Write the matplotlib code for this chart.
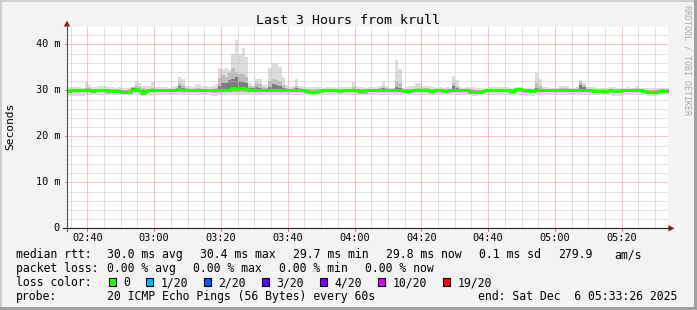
import numpy as np
import matplotlib
matplotlib.use('Agg')
import matplotlib.pyplot as plt
import matplotlib.transforms as mtransforms
from matplotlib.patches import Rectangle, Polygon
from matplotlib.lines import Line2D

# ---------------- data (ms), one value per 60 s step ----------------
ping_max = [
    30.6, 30.7, 30.8, 30.8, 30.7, 30.6, 31.7, 31.2, 30.8, 30.8,
    31.0, 31.0, 31.0, 30.7, 30.7, 30.6, 30.7, 30.6, 30.5, 30.6,
    30.8, 32.0, 31.5, 31.0, 30.9, 30.9, 31.7, 30.8, 30.8, 30.7,
    30.7, 30.6, 30.7, 31.0, 32.9, 32.4, 31.0, 31.0, 30.8, 31.4,
    31.4, 30.9, 30.9, 30.8, 31.0, 31.4, 34.8, 34.6, 34.8, 34.5,
    38.0, 40.9, 38.0, 39.3, 37.3, 31.6, 31.2, 32.5, 32.5, 31.2,
    31.2, 34.8, 35.9, 35.9, 35.0, 33.0, 31.2, 30.8, 31.0, 32.4,
    31.0, 30.8, 30.8, 30.8, 30.7, 30.8, 30.8, 30.6, 30.7, 30.7,
    30.8, 30.6, 30.7, 30.8, 30.7, 30.8, 31.9, 31.0, 30.7, 30.7,
    30.6, 30.7, 30.7, 30.8, 31.0, 31.7, 31.0, 30.6, 30.6, 36.6,
    34.6, 30.6, 30.7, 30.9, 30.9, 31.6, 31.6, 31.0, 31.0, 30.8,
    30.8, 30.6, 30.7, 30.6, 30.7, 30.6, 33.2, 32.2, 30.7, 30.6,
    30.7, 30.8, 30.7, 30.6, 30.5, 30.6, 30.6, 30.7, 30.8, 30.8,
    30.7, 30.8, 30.7, 30.6, 30.6, 30.7, 30.7, 30.6, 30.6, 30.6,
    30.6, 33.7, 32.5, 30.7, 30.7, 30.6, 30.6, 30.6, 30.9, 30.9,
    30.9, 30.6, 30.6, 30.7, 32.2, 31.6, 30.8, 30.8, 30.7, 30.6,
    30.6, 30.6, 30.6, 30.7, 30.7, 30.6, 30.6, 30.6, 30.7, 30.6,
    30.6, 30.9, 30.6, 30.6, 30.5, 30.6, 30.5, 30.5, 30.6, 30.6,
    30.6,
]
ping_q2 = [
    30.2, 30.2, 30.3, 30.2, 30.2, 30.2, 30.6, 30.5, 30.2, 30.2,
    30.3, 30.3, 30.3, 30.2, 30.2, 30.2, 30.2, 30.1, 30.1, 30.2,
    30.8, 31.0, 30.8, 30.4, 30.3, 30.3, 30.6, 30.3, 30.2, 30.2,
    30.2, 30.2, 30.2, 30.4, 31.5, 31.2, 30.5, 30.3, 30.2, 30.5,
    30.5, 30.3, 30.2, 30.2, 30.3, 30.6, 32.6, 33.3, 33.0, 33.8,
    34.8, 34.0, 33.6, 33.6, 33.0, 31.0, 30.8, 31.6, 31.3, 30.8,
    30.6, 32.0, 32.5, 32.3, 32.0, 31.2, 30.6, 30.3, 30.4, 31.0,
    30.5, 30.3, 30.2, 30.2, 30.2, 30.3, 30.2, 30.2, 30.2, 30.3,
    30.2, 30.2, 30.2, 30.3, 30.2, 30.2, 30.8, 30.3, 30.2, 30.2,
    30.2, 30.2, 30.2, 30.3, 30.4, 30.8, 30.5, 30.2, 30.2, 32.0,
    31.5, 30.2, 30.2, 30.3, 30.3, 30.6, 30.6, 30.4, 30.4, 30.3,
    30.2, 30.2, 30.2, 30.2, 30.2, 30.2, 31.6, 31.0, 30.2, 30.2,
    30.2, 30.3, 30.2, 30.1, 30.1, 30.1, 30.2, 30.2, 30.3, 30.3,
    30.2, 30.3, 30.2, 30.2, 30.2, 30.3, 30.3, 30.2, 30.2, 30.2,
    30.2, 31.5, 30.9, 30.2, 30.2, 30.2, 30.2, 30.2, 30.4, 30.4,
    30.4, 30.2, 30.2, 30.2, 31.7, 31.2, 30.3, 30.3, 30.2, 30.2,
    30.2, 30.2, 30.2, 30.2, 30.2, 30.2, 30.2, 30.2, 30.2, 30.2,
    30.2, 30.4, 30.2, 30.2, 30.1, 30.1, 30.1, 30.1, 30.2, 30.2,
    30.2,
]
ping_q3 = [
    30.1, 30.1, 30.1, 30.1, 30.1, 30.1, 30.2, 30.1, 30.1, 30.1,
    30.1, 30.1, 30.1, 30.1, 30.1, 30.1, 30.0, 29.9, 29.9, 29.9,
    30.4, 30.5, 30.3, 30.1, 30.1, 30.1, 30.2, 30.1, 30.1, 30.1,
    30.1, 30.1, 30.1, 30.2, 30.9, 30.6, 30.2, 30.1, 30.1, 30.2,
    30.2, 30.1, 30.1, 30.1, 30.1, 30.2, 31.0, 31.6, 31.5, 32.2,
    32.5, 33.0, 32.0, 31.8, 31.6, 30.6, 30.4, 30.8, 30.6, 30.3,
    30.2, 30.8, 31.3, 31.2, 30.9, 30.5, 30.2, 30.1, 30.1, 30.4,
    30.1, 30.1, 30.1, 29.8, 29.8, 29.8, 30.1, 30.1, 30.1, 30.1,
    30.1, 30.1, 30.1, 30.1, 30.1, 30.1, 30.3, 30.1, 30.1, 30.1,
    30.1, 30.1, 30.1, 30.1, 30.2, 30.4, 30.2, 30.1, 30.1, 30.8,
    30.5, 30.0, 30.0, 30.0, 30.1, 30.2, 30.2, 30.1, 30.1, 30.1,
    30.1, 30.1, 30.1, 30.1, 30.1, 30.1, 30.9, 30.5, 30.1, 30.1,
    30.1, 29.8, 29.8, 29.8, 29.8, 30.1, 30.1, 30.1, 30.1, 30.1,
    30.1, 30.1, 30.1, 30.1, 30.1, 30.3, 30.3, 30.3, 30.1, 30.1,
    30.1, 30.6, 30.3, 30.1, 30.1, 30.1, 30.1, 30.1, 30.2, 30.2,
    30.2, 30.1, 30.1, 30.1, 31.2, 30.7, 30.1, 30.1, 30.1, 30.1,
    30.1, 30.1, 30.1, 30.1, 30.1, 30.1, 30.1, 30.1, 30.1, 30.1,
    30.1, 30.2, 30.1, 30.1, 29.9, 29.9, 29.9, 29.9, 30.1, 30.1,
    30.1,
]
ping_median = [
    29.9, 29.9, 30.0, 30.0, 30.0, 30.0, 30.0, 30.0, 29.9, 30.0,
    30.0, 30.0, 30.0, 29.9, 29.9, 29.9, 29.8, 29.6, 29.6, 29.6,
    30.0, 30.2, 30.0, 29.5, 29.9, 30.0, 30.0, 30.0, 30.0, 30.0,
    30.0, 30.0, 30.0, 30.0, 30.3, 30.1, 30.0, 30.0, 30.0, 30.0,
    30.0, 30.0, 30.0, 30.0, 30.0, 30.0, 30.0, 30.0, 30.0, 30.1,
    30.5, 30.3, 30.4, 30.4, 30.2, 30.0, 30.0, 30.1, 30.0, 30.0,
    30.0, 30.0, 30.0, 30.0, 30.0, 30.0, 30.0, 30.0, 30.0, 30.0,
    30.0, 30.0, 29.9, 29.6, 29.6, 29.7, 29.9, 30.0, 30.0, 30.0,
    30.0, 30.0, 29.9, 30.0, 30.0, 30.0, 30.0, 30.0, 29.9, 29.9,
    30.0, 30.0, 30.0, 30.0, 30.0, 30.0, 30.0, 30.0, 30.0, 30.0,
    30.0, 29.8, 29.8, 29.8, 30.0, 30.0, 30.0, 30.0, 30.0, 29.9,
    29.9, 30.0, 30.0, 29.9, 29.9, 30.0, 30.1, 30.0, 30.0, 30.0,
    30.0, 29.7, 29.6, 29.6, 29.6, 29.9, 30.0, 30.0, 30.0, 30.0,
    30.0, 30.0, 30.0, 29.9, 29.9, 30.2, 30.2, 30.1, 30.0, 29.9,
    29.9, 30.0, 30.0, 30.0, 30.0, 30.0, 30.0, 30.0, 30.0, 30.0,
    30.0, 30.0, 30.0, 30.0, 30.0, 30.0, 30.0, 30.0, 29.9, 29.9,
    29.9, 29.9, 29.9, 30.0, 29.8, 29.8, 29.9, 30.0, 30.0, 30.0,
    30.0, 30.0, 30.0, 29.9, 29.7, 29.7, 29.7, 29.7, 29.8, 29.8,
    29.8,
]
ping_p10 = [
    29.6, 29.6, 29.6, 29.6, 29.6, 29.6, 29.6, 29.6, 29.6, 29.6,
    29.6, 29.6, 29.3, 29.3, 29.6, 29.6, 29.5, 29.3, 29.3, 29.3,
    29.6, 29.6, 29.5, 29.2, 29.6, 29.6, 29.6, 29.6, 29.6, 29.6,
    29.6, 29.6, 29.6, 29.6, 29.6, 29.6, 29.6, 29.6, 29.6, 29.6,
    29.6, 29.6, 29.6, 29.6, 29.5, 29.5, 29.6, 29.6, 29.6, 29.6,
    29.7, 29.7, 29.7, 29.7, 29.6, 29.6, 29.6, 29.6, 29.6, 29.6,
    29.6, 29.6, 29.6, 29.6, 29.6, 29.6, 29.6, 29.6, 29.6, 29.6,
    29.6, 29.6, 29.5, 29.3, 29.3, 29.4, 29.6, 29.6, 29.6, 29.6,
    29.6, 29.6, 29.6, 29.6, 29.6, 29.6, 29.6, 29.6, 29.3, 29.3,
    29.3, 29.6, 29.6, 29.6, 29.6, 29.6, 29.6, 29.6, 29.6, 29.6,
    29.6, 29.5, 29.5, 29.5, 29.6, 29.6, 29.6, 29.6, 29.6, 29.3,
    29.3, 29.6, 29.6, 29.4, 29.4, 29.6, 29.6, 29.6, 29.6, 29.6,
    29.6, 29.3, 29.3, 29.3, 29.3, 29.6, 29.6, 29.6, 29.6, 29.6,
    29.6, 29.6, 29.6, 29.3, 29.3, 29.6, 29.6, 29.6, 29.4, 29.4,
    29.4, 29.6, 29.6, 29.6, 29.6, 29.6, 29.6, 29.6, 29.6, 29.6,
    29.6, 29.6, 29.6, 29.6, 29.6, 29.6, 29.6, 29.6, 29.6, 29.6,
    29.6, 29.3, 29.3, 29.6, 29.5, 29.5, 29.6, 29.6, 29.6, 29.6,
    29.6, 29.6, 29.6, 29.6, 29.4, 29.4, 29.4, 29.4, 29.5, 29.5,
    29.5,
]
ping_min = [
    28.85, 28.85, 28.85, 28.85, 28.85, 28.85, 29.0, 29.0, 29.0, 29.0,
    29.0, 29.0, 28.95, 28.95, 28.9, 28.9, 28.9, 28.9, 28.9, 28.9,
    29.0, 29.0, 28.95, 28.85, 29.0, 29.0, 29.0, 29.0, 29.0, 29.0,
    29.0, 29.0, 29.0, 29.0, 29.0, 29.0, 29.0, 29.0, 29.0, 29.0,
    29.0, 29.0, 29.0, 29.0, 28.85, 28.85, 29.0, 29.0, 29.0, 29.0,
    29.0, 29.0, 28.95, 28.9, 28.9, 28.9, 28.95, 29.0, 29.0, 29.0,
    29.0, 29.0, 29.0, 29.0, 29.0, 29.0, 29.0, 29.0, 29.0, 29.0,
    29.0, 29.0, 28.95, 28.9, 28.9, 28.95, 29.0, 29.0, 29.0, 29.0,
    29.0, 29.0, 29.0, 29.0, 29.0, 29.0, 29.0, 29.0, 28.9, 28.9,
    28.9, 29.0, 29.0, 29.0, 29.0, 29.0, 29.0, 29.0, 29.0, 29.0,
    29.0, 28.95, 28.95, 28.95, 29.0, 29.0, 29.0, 29.0, 29.0, 28.9,
    28.9, 29.0, 29.0, 28.95, 28.95, 29.0, 29.0, 29.0, 29.0, 29.0,
    29.0, 28.9, 28.85, 28.85, 28.9, 29.0, 29.0, 29.0, 29.0, 29.0,
    29.0, 29.0, 29.0, 28.9, 28.9, 29.0, 29.0, 29.0, 28.75, 28.75,
    28.75, 29.0, 29.0, 29.0, 29.0, 29.0, 29.0, 29.0, 29.0, 29.0,
    29.0, 29.0, 29.0, 29.0, 29.0, 29.0, 29.0, 29.0, 29.0, 29.0,
    29.0, 28.9, 28.9, 29.0, 28.75, 28.75, 28.75, 29.0, 29.0, 29.0,
    29.0, 29.0, 29.0, 29.0, 28.75, 28.75, 28.75, 28.75, 28.95, 28.95,
    28.95,
]

first_step_min = -6.83          # start of first step, minutes relative to 02:40
time_labels = ['02:40', '03:00', '03:20', '03:40', '04:00', '04:20', '04:40', '05:00', '05:20']
time_ticks = [0, 20, 40, 60, 80, 100, 120, 140, 160]
y_ticks = [0, 10, 20, 30, 40]
y_labels = ['0', '10 m', '20 m', '30 m', '40 m']

loss_labels = ['0', '1/20', '2/20', '3/20', '4/20', '10/20', '19/20']
loss_colors = ['#26ff00', '#00b8ff', '#0059ff', '#5e00ff', '#7e00ff', '#dd00ff', '#ff0000']

title = 'Last 3 Hours from krull'
rtt_stats = ['median rtt:', '30.0 ms avg', '30.4 ms max', '29.7 ms min', '29.8 ms now',
             '0.1 ms sd', '279.9', 'am/s']
loss_stats = ['packet loss:', '0.00 % avg', '0.00 % max', '0.00 % min', '0.00 % now']
probe_text = ['probe:', '20 ICMP Echo Pings (56 Bytes) every 60s', 'end: Sat Dec  6 05:33:26 2025']

# ---------------- figure ----------------
W, H = 697, 310
MONO = 'DejaVu Sans Mono'
plt.rcParams['font.family'] = [MONO]
fig = plt.figure(figsize=(W / 100, H / 100), dpi=100, facecolor='#f3f3f3')


def fx(x):
    return x / W


def fy(y):
    return 1 - y / H


X0, X1, YT, YB = 67, 667.5, 27.3, 228.3
ax = fig.add_axes([fx(X0), fy(YB), (X1 - X0) / W, (YB - YT) / H])
ax.set_facecolor('white')
ax.set_xlim(-6.08, 173.71)
ax.set_ylim(0, 43.7)
for s in ax.spines.values():
    s.set_visible(False)
ax.set_xticks([])
ax.set_yticks([])

n = len(ping_max)
edges = first_step_min + np.arange(n + 1)


def ext(a):
    a = np.asarray(a, dtype=float)
    return np.append(a, a[-1])


mx, q2, q3, med, p10, mn = map(ext, (ping_max, ping_q2, ping_q3, ping_median, ping_p10, ping_min))
ax.fill_between(edges, mn, mx, step='post', color='#dcdcdc', lw=0, zorder=1)
ax.fill_between(edges, p10, q2, step='post', color='#bdbdbd', lw=0, zorder=1.2)
ax.fill_between(edges, np.minimum(med, q3) - 0.15, q3, step='post', color='#7d7d7d', lw=0, zorder=1.4)

# grid (dotted)
dot = (0, (1, 1))
gkw = dict(lw=0.72, ls=dot)
for t in np.arange(-5, 174, 5):
    if t % 20 == 0:
        continue
    ax.axvline(t, color='#c4c4c4', zorder=2, **gkw)
for v in np.arange(2, 43, 2):
    if v % 10 == 0:
        continue
    ax.axhline(v, color='#c4c4c4', zorder=2, **gkw)
for t in time_ticks:
    ax.axvline(t, color='#ee8a8a', zorder=2.1, **gkw)
for v in y_ticks[1:]:
    ax.axhline(v, color='#ee8a8a', zorder=2.1, **gkw)

ax.step(edges, med, where='post', color='#26ff00', lw=2.2, zorder=3)

# tick labels and small tick marks
tx = mtransforms.blended_transform_factory(ax.transData, ax.transAxes)
for t, lab in zip(time_ticks, time_labels):
    ax.text(t, (YB - 240.7) / (YB - YT), lab, transform=tx, ha='center', va='baseline',
            fontsize=7.35, color='black', clip_on=False)
    ax.plot([t, t], [0, -2.2 / (YB - YT)], transform=tx, color='#e07070', lw=0.72,
            clip_on=False, zorder=4)
ty = mtransforms.offset_copy(mtransforms.blended_transform_factory(ax.transAxes, ax.transData),
                             fig=fig, x=-7, y=-3, units='dots')
tyl = mtransforms.blended_transform_factory(ax.transAxes, ax.transData)
for v, lab in zip(y_ticks, y_labels):
    ax.text(0, v, lab, transform=ty, ha='right', va='baseline', fontsize=7.35,
            color='black', clip_on=False)
    if v > 0:
        ax.plot([-2.5 / (X1 - X0), 0], [v, v], transform=tyl, color='#e07070', lw=0.72,
                clip_on=False, zorder=4)

# axis lines and arrows
fig.add_artist(Line2D([fx(67), fx(67)], [fy(231), fy(24)], color='#505050', lw=0.8))
fig.add_artist(Line2D([fx(63), fx(670)], [fy(YB), fy(YB)], color='#202020', lw=0.8))
fig.add_artist(Polygon([(fx(63.8), fy(26.5)), (fx(70.2), fy(26.5)), (fx(67), fy(20.5))],
                       closed=True, color='#8c1c1c', lw=0))
fig.add_artist(Polygon([(fx(668.5), fy(YB - 3.2)), (fx(668.5), fy(YB + 3.2)), (fx(674.5), fy(YB))],
                       closed=True, color='#8c1c1c', lw=0))

# texts
fig.text(fx(348), fy(24), title, ha='center', va='baseline', fontsize=9.5, color='black')
fig.text(fx(10.5), fy(126.5), 'Seconds', rotation=90, ha='center', va='center', fontsize=8.1)
fig.text(fx(687.5), fy(60), 'RRDTOOL / TOBI OETIKER', rotation=-90, ha='center', va='center',
         fontsize=6.0, color='#a8a8a8')

LFS = 8.3
for xp, s in zip([16, 107, 200, 293, 386, 479, 558, 614], rtt_stats):
    fig.text(fx(xp), fy(258.2), s, ha='left', va='baseline', fontsize=LFS)
for xp, s in zip([16, 107, 193.3, 279.3, 365], loss_stats):
    fig.text(fx(xp), fy(272.1), s, ha='left', va='baseline', fontsize=LFS)
fig.text(fx(16), fy(286.0), 'loss color:', ha='left', va='baseline', fontsize=LFS)
for xs, xt, lab, col in zip([108.7, 145.7, 203.7, 261.7, 319.7, 377.7, 442.7],
                            [123.3, 160.3, 218.3, 276.3, 334.3, 392.7, 457.3],
                            loss_labels, loss_colors):
    fig.add_artist(Rectangle((fx(xs), fy(286.3)), 7.5 / W, 8 / H, facecolor=col,
                             edgecolor='black', lw=0.8, transform=fig.transFigure))
    fig.text(fx(xt), fy(286.0), lab, ha='left', va='baseline', fontsize=LFS)
for xp, s in zip([16, 107, 478.3], probe_text):
    fig.text(fx(xp), fy(299.9), s, ha='left', va='baseline', fontsize=LFS)

# 3D frame
fig.add_artist(Rectangle((0, fy(2)), 1, 2 / H, color='#cdcdcd', lw=0, transform=fig.transFigure))
fig.add_artist(Rectangle((0, 0), 2 / W, 1, color='#cdcdcd', lw=0, transform=fig.transFigure))
fig.add_artist(Rectangle((0, 0), 1, 3 / H, color='#a0a0a0', lw=0, transform=fig.transFigure))
fig.add_artist(Rectangle((fx(694), 0), 3 / W, 1, color='#a0a0a0', lw=0, transform=fig.transFigure))

fig.savefig('out.png', dpi=100, facecolor=fig.get_facecolor())
